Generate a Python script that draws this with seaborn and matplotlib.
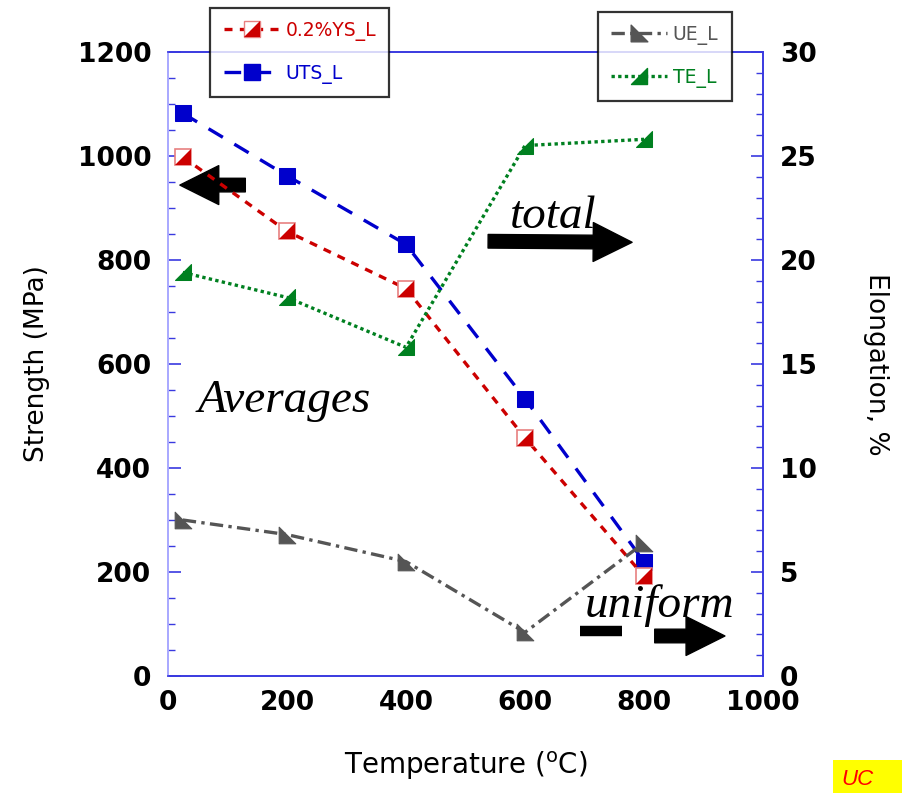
import numpy as np
import pandas as pd
import seaborn as sns
import matplotlib
matplotlib.use("Agg")
import matplotlib.pyplot as plt
from matplotlib.path import Path
from matplotlib.lines import Line2D
from matplotlib.legend_handler import HandlerTuple
from matplotlib.patches import Rectangle
from matplotlib.ticker import MultipleLocator

# Test temperatures (deg C)
temperature = [25, 200, 400, 600, 800]
# Strength, MPa (left axis)
ys_l = [998, 855, 745, 458, 192]
uts_l = [1082, 962, 830, 533, 220]
# Elongation, % (right axis)
ue_l = [7.5, 6.8, 5.5, 2.1, 6.4]
te_l = [19.4, 18.2, 15.8, 25.5, 25.8]

x_ticks = [0, 200, 400, 600, 800, 1000]
left_ticks = [0, 200, 400, 600, 800, 1000, 1200]
right_ticks = [0, 5, 10, 15, 20, 25, 30]

df = pd.DataFrame({"T": temperature, "YS": ys_l, "UTS": uts_l, "UE": ue_l, "TE": te_l})

sns.set_style("white")
plt.rcParams["font.family"] = ["DejaVu Sans"]
plt.rcParams["text.color"] = "black"
plt.rcParams["axes.labelcolor"] = "black"

RED = "#cc0000"
BLUE = "#0000cc"
GRAY = "#555555"
GREEN = "#008020"
SPINE = "#3a3ae0"

# half-filled markers: lower-right triangle and upper-left triangle
tri_lr = Path([(-1, -1), (1, -1), (1, 1), (-1, -1)], [1, 2, 2, 79])
tri_ul = Path([(-1, -1), (-1, 1), (1, -1), (-1, -1)], [1, 2, 2, 79])

fig = plt.figure(figsize=(9.03, 7.93), dpi=100)
ax = fig.add_axes([0.186, 0.1475, 0.659, 0.787])
ax2 = ax.twinx()

ms = 12
sns.lineplot(data=df, x="T", y="UTS", ax=ax, color=BLUE, lw=2.4,
             linestyle=(0, (5, 4)), marker="s", markersize=ms,
             markeredgecolor=BLUE, markerfacecolor=BLUE, zorder=3)
sns.lineplot(data=df, x="T", y="YS", ax=ax, color=RED, lw=2.4,
             linestyle=(0, (2.4, 2.2)), marker="s", markersize=ms,
             markerfacecolor="white", markeredgecolor="#e88080",
             markeredgewidth=1.2, zorder=4)
ax.plot(df["T"], df["YS"], linestyle="none", marker=tri_lr, markersize=ms - 1,
        markerfacecolor=RED, markeredgecolor=RED, markeredgewidth=0, zorder=5)

sns.lineplot(data=df, x="T", y="UE", ax=ax2, color=GRAY, lw=2.4,
             linestyle=(0, (4, 1.6, 1, 1.6)), marker=tri_ul, markersize=ms,
             markerfacecolor=GRAY, markeredgecolor=GRAY, zorder=3)
sns.lineplot(data=df, x="T", y="TE", ax=ax2, color=GREEN, lw=2.4,
             linestyle=(0, (1, 1)), marker=tri_lr, markersize=ms,
             markerfacecolor=GREEN, markeredgecolor=GREEN, zorder=3)

ax.set_xlim(0, 1000)
ax.set_ylim(0, 1200)
ax2.set_ylim(0, 30)
ax.set_xticks(x_ticks)
ax.set_yticks(left_ticks)
ax2.set_yticks(right_ticks)
ax.xaxis.set_minor_locator(MultipleLocator(50))
ax.yaxis.set_minor_locator(MultipleLocator(50))
ax2.yaxis.set_minor_locator(MultipleLocator(1))

tick_font = dict(fontsize=19, fontweight="bold", color="black")
ax.set_xticklabels([str(v) for v in x_ticks], **tick_font)
ax.set_yticklabels([str(v) for v in left_ticks], **tick_font)
ax2.set_yticklabels([str(v) for v in right_ticks], **tick_font)

for a in (ax, ax2):
    a.tick_params(which="major", direction="in", length=9, width=1.2,
                  color=SPINE, pad=12, labelcolor="black")
    a.tick_params(which="minor", direction="in", length=5, width=1.0,
                  color=SPINE)
    for s in a.spines.values():
        s.set_color(SPINE)
        s.set_linewidth(1.2)
ax.tick_params(which="both", top=False, right=False)
ax.spines["left"].set_color("#a8a8ff")
ax2.spines["left"].set_color("#a8a8ff")
ax.tick_params(axis="x", pad=10)

ax.set_xlabel("Temperature ($^{\\rm o}$C)", fontsize=20, labelpad=24)
ax.set_ylabel("Strength (MPa)", fontsize=19, labelpad=20)
ax2.set_ylabel("Elongation, %", fontsize=19, rotation=270, labelpad=52)

# annotations
serif_it = dict(family=["Liberation Serif", "DejaVu Serif"], style="italic",
                fontsize=34, color="black")
ax.text(50, 508, "Averages", **serif_it)
ax.text(575, 862, "total", **serif_it)
ax.text(700, 113, "uniform", **serif_it)

arrow = dict(arrowstyle="simple,head_length=1.0,head_width=1.0,tail_width=0.35",
             color="black", mutation_scale=28, shrinkA=0, shrinkB=0)
ax.annotate("", xy=(20, 944), xytext=(130, 944), arrowprops=arrow)
ax.annotate("", xy=(780, 834), xytext=(538, 836), arrowprops=arrow)
ax.annotate("", xy=(936, 77), xytext=(818, 77), arrowprops=arrow)
ax.plot([692, 763], [86, 86], color="black", lw=7.5, solid_capstyle="butt")

# legends
def ys_handle():
    l1 = Line2D([], [], color=RED, lw=2.4, linestyle=(0, (2.4, 2.2)), marker="s",
                markersize=ms, markerfacecolor="white", markeredgecolor="#e88080")
    l2 = Line2D([], [], linestyle="none", marker=tri_lr, markersize=ms - 1,
                markerfacecolor=RED, markeredgecolor=RED, markeredgewidth=0)
    return (l1, l2)

h_uts = Line2D([], [], color=BLUE, lw=2.4, linestyle=(0, (5, 4)), marker="s",
               markersize=ms, markerfacecolor=BLUE, markeredgecolor=BLUE)
h_ue = Line2D([], [], color=GRAY, lw=2.4, linestyle=(0, (4, 1.6, 1, 1.6)),
              marker=tri_ul, markersize=ms, markerfacecolor=GRAY, markeredgecolor=GRAY)
h_te = Line2D([], [], color=GREEN, lw=2.4, linestyle=(0, (1, 1)),
              marker=tri_lr, markersize=ms, markerfacecolor=GREEN, markeredgecolor=GREEN)

leg_kw = dict(frameon=True, fancybox=False, fontsize=13.5, numpoints=1,
              handlelength=3.0, labelspacing=1.2, borderpad=0.7,
              handletextpad=0.3, borderaxespad=0, shadow=False)
leg1 = fig.legend([ys_handle(), h_uts], ["0.2%YS_L", "UTS_L"],
                  handler_map={tuple: HandlerTuple(ndivide=1, pad=0)},
                  loc="upper left", bbox_to_anchor=(0.233, 0.99),
                  labelcolor=[RED, BLUE], **leg_kw)
leg2 = fig.legend([h_ue, h_te], ["UE_L", "TE_L"], loc="upper left",
                  bbox_to_anchor=(0.662, 0.985), labelcolor=[GRAY, GREEN], **leg_kw)
for lg in (leg1, leg2):
    fr = lg.get_frame()
    fr.set_edgecolor("black")
    fr.set_linewidth(1.6)

# corner tag
fig.patches.append(Rectangle((0.922, 0.0), 0.08, 0.042, transform=fig.transFigure,
                             facecolor="yellow", edgecolor="none", zorder=0))
fig.text(0.932, 0.004, "UC", color="red", fontsize=16, style="italic",
         va="bottom", family=["Liberation Sans", "DejaVu Sans"])

fig.savefig("out.png", dpi=100)
